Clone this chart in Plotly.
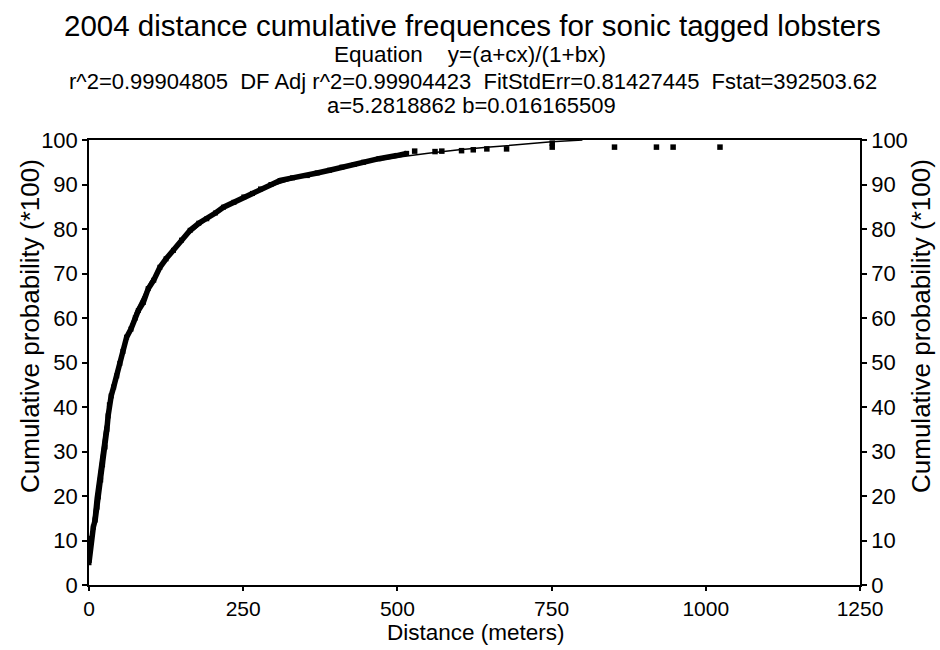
import plotly.graph_objects as go

# ---- data ----
obs_x = [0, 2, 4, 7, 10, 13, 15, 19, 22, 26, 29, 31, 33, 36, 40, 45, 50, 55, 61, 68,
         75, 80, 88, 96, 105, 115, 125, 137, 150, 164, 178, 191, 205, 218, 235, 251,
         265, 278, 295, 310, 330, 354, 370, 390, 410, 430, 445, 470, 499, 515]
obs_y = [5, 8, 10.5, 13, 14.6, 17.5, 19.8, 23.6, 27, 31, 35, 38, 40.5, 42.5, 44.5, 47,
         49.8, 52.5, 55.7, 57.5, 60, 61.7, 63.5, 66.6, 68.5, 71.4, 73.3, 75.2, 77.5,
         79.7, 81.3, 82.3, 83.6, 84.9, 86, 87.2, 88, 89, 90, 90.9, 91.5, 92, 92.6,
         93.2, 93.9, 94.5, 95, 95.8, 96.5, 97]

tail_x = [528, 561, 572, 604, 623, 645, 677, 751, 751, 852, 920, 947, 1023]
tail_y = [97.5, 97.4, 97.5, 97.6, 97.8, 98.0, 98.0, 98.4, 99.3, 98.4, 98.4, 98.4, 98.4]

fit_x = [0, 10, 25, 50, 75, 100, 150, 200, 250, 300, 350, 400, 450, 500, 550, 600,
         650, 700, 750, 800]
fit_y = [5.3, 19.5, 34.7, 50.9, 61.2, 68.3, 77.5, 83.2, 87.1, 89.9, 92.0, 93.7, 95.0,
         96.1, 97.0, 97.8, 98.4, 99.0, 99.6, 100.0]

x_ticks = [0, 250, 500, 750, 1000, 1250]
y_ticks = [0, 10, 20, 30, 40, 50, 60, 70, 80, 90, 100]

title = "2004 distance cumulative frequences for sonic tagged lobsters"
sub1 = "Equation    y=(a+cx)/(1+bx)"
sub2 = "r^2=0.99904805  DF Adj r^2=0.99904423  FitStdErr=0.81427445  Fstat=392503.62"
sub3 = "a=5.2818862 b=0.016165509"
x_title = "Distance (meters)"
y_title = "Cumulative probability (*100)"

FONT = "Arial, Liberation Sans, sans-serif"

# plot area in pixels
L, R, T, B = 89, 860, 140, 585
W, H = 940, 650


def px_x(p):
    return (p - L) / (R - L)


def px_y(p):
    return (B - p) / (B - T)


fig = go.Figure()
fig.add_trace(go.Scatter(x=fit_x, y=fit_y, mode="lines",
                         line=dict(color="black", width=1.5), showlegend=False))
fig.add_trace(go.Scatter(x=obs_x, y=obs_y, mode="lines+markers",
                         line=dict(color="black", width=5.5),
                         marker=dict(symbol="square", size=5, color="black"),
                         showlegend=False))
fig.add_trace(go.Scatter(x=tail_x, y=tail_y, mode="markers",
                         marker=dict(symbol="square", size=5.5, color="black"),
                         showlegend=False, cliponaxis=False))
# invisible trace to activate right axis
fig.add_trace(go.Scatter(x=[0], y=[0], yaxis="y2", mode="markers",
                         marker=dict(opacity=0), showlegend=False, hoverinfo="skip"))

axis_common = dict(showgrid=False, zeroline=False, linecolor="black", linewidth=1.5,
                   ticks="outside", tickcolor="black", tickwidth=1.5,
                   automargin=False)

fig.update_layout(
    width=W, height=H,
    margin=dict(l=L, r=W - R, t=T, b=H - B, autoexpand=False),
    paper_bgcolor="white", plot_bgcolor="white",
    font=dict(family=FONT, color="black"),
    xaxis=dict(range=[0, 1250], tickvals=x_ticks, showline=True, mirror=True,
               ticklen=4, tickfont=dict(size=21, color="black", family=FONT),
               **axis_common),
    yaxis=dict(range=[0, 100], tickvals=y_ticks, showline=True, ticklen=5,
               tickfont=dict(size=22, color="black", family=FONT), **axis_common),
    yaxis2=dict(range=[0, 100], tickvals=y_ticks, showline=True, overlaying="y",
                side="right", ticklen=5,
                tickfont=dict(size=22, color="black", family=FONT), **axis_common),
    annotations=[
        dict(text=title, x=px_x(472), y=px_y(25), xref="paper", yref="paper",
             showarrow=False, font=dict(size=29.5), yanchor="middle", xanchor="center"),
        dict(text=sub1, x=px_x(470), y=px_y(55), xref="paper", yref="paper",
             showarrow=False, font=dict(size=22.5), yanchor="middle"),
        dict(text=sub2, x=px_x(473), y=px_y(81), xref="paper", yref="paper",
             showarrow=False, font=dict(size=22), yanchor="middle"),
        dict(text=sub3, x=px_x(471), y=px_y(105), xref="paper", yref="paper",
             showarrow=False, font=dict(size=22), yanchor="middle"),
        dict(text=x_title, x=px_x(476), y=px_y(632), xref="paper", yref="paper",
             showarrow=False, font=dict(size=22.5), yanchor="middle"),
        dict(text=y_title, x=px_x(30), y=px_y(326), xref="paper", yref="paper",
             showarrow=False, font=dict(size=26), textangle=-90,
             xanchor="center", yanchor="middle"),
        dict(text=y_title, x=px_x(921), y=px_y(326), xref="paper", yref="paper",
             showarrow=False, font=dict(size=26), textangle=-90,
             xanchor="center", yanchor="middle"),
    ],
)

fig.write_html("out.html", config={"displayModeBar": False},
               post_script="document.body.style.margin='0';")
